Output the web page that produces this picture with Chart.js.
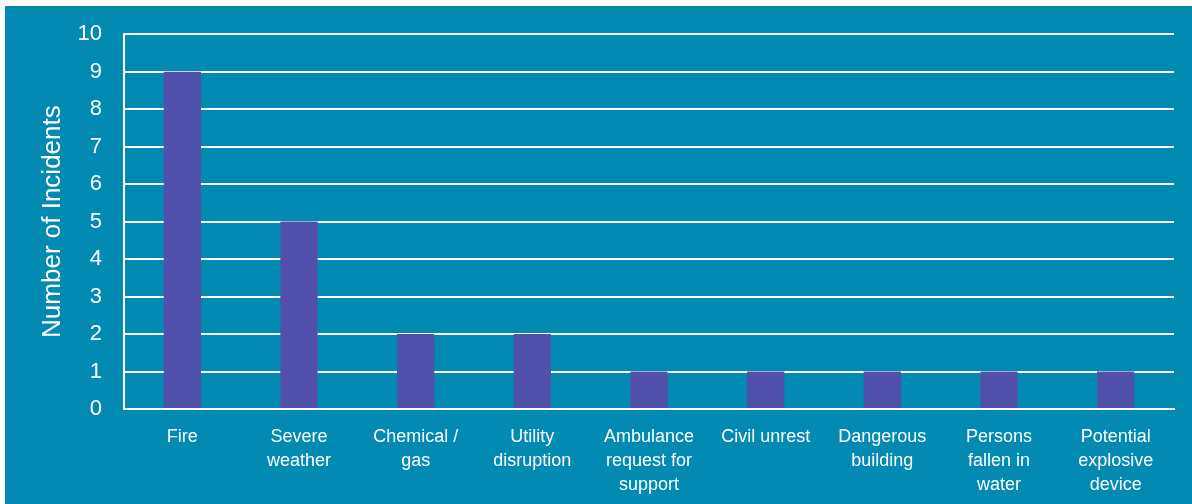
<!DOCTYPE html>
<html>
<head>
<meta charset="utf-8">
<script src="https://cdn.jsdelivr.net/npm/chart.js@4"></script>
<style>
  body { margin: 0; background: #fff; }
  #wrap { position: absolute; left: 5px; top: 6px; width: 1187px; height: 498px; background: #028ab3; overflow: hidden; }
  #myChart { position: absolute; left: 0; top: -7px; }
</style>
</head>
<body>
<div id="wrap"><canvas id="myChart" width="1187" height="505"></canvas></div>
<script>
const categories = [
    'Fire',
    ['Severe', 'weather'],
    ['Chemical /', 'gas'],
    ['Utility', 'disruption'],
    ['Ambulance', 'request for', 'support'],
    'Civil unrest',
    ['Dangerous', 'building'],
    ['Persons', 'fallen in', 'water'],
    ['Potential', 'explosive', 'device']
];
const incidents = [9, 5, 2, 2, 1, 1, 1, 1, 1];

const data = {
    labels: categories,
    datasets: [{
        label: 'Number of Incidents',
        data: incidents,
        backgroundColor: '#5151ab',
        borderWidth: 0,
        barPercentage: 0.64,
        categoryPercentage: 0.5
    }]
};

const config = {
    type: 'bar',
    data,
    options: {
        responsive: false,
        animation: false,
        layout: { padding: { top: 7, right: 18, left: 32, bottom: 0 } },
        plugins: {
            legend: { display: false },
            tooltip: { enabled: false }
        },
        scales: {
            x: {
                grid: { display: false, drawTicks: false },
                border: { display: true, color: '#ffffff', width: 2 },
                ticks: {
                    color: '#ffffff',
                    font: { family: 'Liberation Sans, Arial', size: 18, lineHeight: 1.33 },
                    maxRotation: 0,
                    autoSkip: false,
                    padding: 16
                },
                afterFit: (scale) => { scale.height = 95; }
            },
            y: {
                min: 0,
                max: 10,
                grid: { color: '#ffffff', lineWidth: 2, drawTicks: false },
                border: { display: true, color: '#ffffff', width: 2 },
                ticks: {
                    stepSize: 1,
                    color: '#ffffff',
                    font: { family: 'Liberation Sans, Arial', size: 22 },
                    padding: 22
                },
                title: {
                    display: true,
                    text: 'Number of Incidents',
                    color: '#ffffff',
                    font: { family: 'Liberation Sans, Arial', size: 26 },
                    padding: { top: 0, bottom: 0 }
                },
                afterFit: (scale) => { scale.width = 87; }
            }
        }
    }
};

const myChart = new Chart(document.getElementById('myChart'), config);
</script>
</body>
</html>
